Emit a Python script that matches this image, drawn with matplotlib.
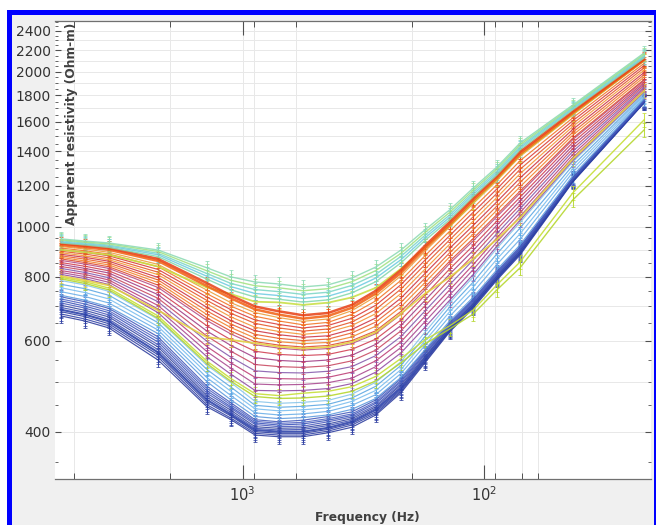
import numpy as np
import matplotlib
matplotlib.use("Agg")
import matplotlib.pyplot as plt
from matplotlib.patches import Rectangle
from matplotlib.ticker import FixedLocator, NullFormatter, FixedFormatter

# ---------------- data (rows = frequency, columns = individual curves) -------------
freq = [5650, 4500, 3580, 2240, 1405, 1118, 889, 708, 563, 443,
        353, 281, 221, 176, 139, 111, 88.6, 71.1, 43.0, 21.8]

dark_blue = [
    [671, 677, 684, 690, 697, 704, 711, 718, 724, 731],
    [656, 662, 669, 675, 682, 688, 695, 701, 708, 715],
    [636, 642, 648, 655, 661, 668, 674, 681, 687, 694],
    [551, 558, 564, 570, 577, 584, 590, 597, 604, 611],
    [447, 451, 456, 461, 466, 470, 475, 480, 485, 490],
    [422, 425, 429, 432, 436, 440, 444, 447, 451, 455],
    [394, 397, 400, 403, 406, 409, 413, 416, 419, 422],
    [391, 394, 397, 400, 403, 406, 409, 412, 415, 418],
    [391, 394, 397, 400, 404, 407, 410, 414, 417, 421],
    [398, 401, 404, 407, 411, 414, 418, 421, 424, 428],
    [408, 412, 415, 418, 421, 424, 427, 430, 433, 437],
    [431, 434, 437, 441, 444, 447, 450, 454, 457, 461],
    [476, 479, 482, 486, 489, 493, 496, 500, 503, 507],
    [544, 547, 550, 554, 557, 560, 564, 567, 570, 574],
    [625, 627, 630, 633, 636, 639, 642, 645, 648, 651],
    [695, 699, 702, 705, 708, 711, 714, 718, 721, 724],
    [788, 791, 795, 798, 801, 805, 808, 812, 815, 819],
    [881, 885, 889, 892, 896, 900, 904, 907, 911, 915],
    [1221, 1224, 1227, 1230, 1233, 1236, 1238, 1241, 1244, 1247],
    [1739, 1741, 1744, 1747, 1749, 1752, 1754, 1757, 1760, 1762],
]

light_blue = [
    [736, 748, 761, 773, 786],
    [720, 732, 745, 758, 771],
    [699, 711, 724, 736, 749],
    [620, 630, 640, 651, 661],
    [500, 509, 519, 528, 538],
    [461, 470, 479, 488, 498],
    [428, 435, 443, 450, 458],
    [424, 431, 439, 446, 454],
    [426, 433, 441, 448, 456],
    [431, 438, 445, 452, 460],
    [442, 450, 458, 465, 473],
    [464, 472, 481, 490, 499],
    [510, 519, 528, 538, 547],
    [577, 588, 600, 612, 624],
    [656, 670, 684, 698, 712],
    [730, 747, 764, 781, 799],
    [825, 845, 865, 886, 908],
    [922, 945, 969, 994, 1019],
    [1256, 1275, 1295, 1315, 1336],
    [1770, 1782, 1794, 1806, 1818],
]

lime = [
    [797, 792], [782, 776], [760, 754], [671, 664], [548, 542],
    [507, 501], [474, 468], [470, 464], [475, 465], [479, 469],
    [489, 479], [512, 502], [555, 544], [603, 592], [642, 633],
    [689, 677], [771, 754], [854, 832], [1163, 1127], [1612, 1541],
]

purple_red = [
    [808, 815, 822, 830, 837, 845, 852, 860],
    [793, 800, 808, 815, 823, 830, 838, 846],
    [772, 780, 788, 796, 804, 813, 821, 830],
    [681, 692, 703, 715, 726, 738, 750, 762],
    [559, 572, 585, 599, 613, 627, 642, 657],
    [517, 531, 544, 558, 573, 588, 603, 619],
    [481, 495, 510, 525, 540, 557, 573, 590],
    [480, 493, 507, 521, 535, 550, 565, 581],
    [481, 494, 506, 520, 533, 547, 562, 576],
    [485, 498, 510, 524, 537, 551, 565, 580],
    [496, 508, 522, 535, 549, 563, 578, 593],
    [522, 535, 549, 562, 576, 591, 605, 620],
    [569, 583, 598, 612, 628, 643, 659, 676],
    [638, 654, 670, 686, 702, 719, 736, 754],
    [720, 737, 754, 772, 790, 809, 828, 848],
    [808, 826, 844, 862, 881, 900, 919, 939],
    [917, 934, 952, 970, 989, 1007, 1026, 1046],
    [1029, 1047, 1065, 1084, 1102, 1122, 1141, 1161],
    [1345, 1363, 1381, 1400, 1418, 1437, 1457, 1476],
    [1826, 1840, 1854, 1867, 1881, 1895, 1909, 1923],
]

orange_red = [
    [866, 872, 878, 884, 890, 896, 902, 909, 915],
    [852, 858, 865, 872, 878, 885, 892, 898, 905],
    [836, 843, 850, 857, 863, 870, 878, 885, 892],
    [770, 779, 788, 797, 807, 816, 826, 836, 845],
    [665, 675, 686, 697, 708, 719, 730, 741, 753],
    [627, 637, 647, 657, 668, 679, 690, 701, 712],
    [598, 608, 618, 628, 638, 649, 659, 670, 681],
    [589, 598, 607, 617, 626, 636, 646, 656, 666],
    [584, 593, 601, 610, 618, 627, 636, 645, 655],
    [588, 596, 605, 614, 624, 633, 643, 652, 662],
    [601, 611, 622, 632, 643, 653, 664, 676, 687],
    [628, 641, 653, 665, 678, 691, 704, 718, 732],
    [685, 699, 713, 727, 742, 757, 772, 787, 803],
    [763, 779, 794, 811, 827, 844, 861, 878, 896],
    [857, 874, 890, 908, 925, 943, 961, 980, 999],
    [949, 968, 987, 1006, 1026, 1046, 1067, 1088, 1109],
    [1056, 1077, 1097, 1118, 1140, 1161, 1184, 1206, 1229],
    [1172, 1195, 1219, 1243, 1267, 1292, 1317, 1343, 1369],
    [1486, 1506, 1525, 1545, 1565, 1585, 1606, 1627, 1648],
    [1931, 1952, 1972, 1992, 2013, 2034, 2055, 2076, 2098],
]

yellow = [
    [802, 902], [787, 892], [769, 882], [688, 837], [610, 762],
    [603, 740], [594, 715], [585, 713], [580, 705], [584, 712],
    [597, 729], [624, 761], [678, 829], [741, 912], [798, 1004],
    [866, 1115], [945, 1236], [1040, 1376], [1354, 1654], [1835, 2103],
]

bold_orange = [
    [921, 927], [912, 918], [902, 909], [858, 866], [767, 777],
    [726, 735], [691, 700], [675, 685], [663, 673], [671, 680],
    [696, 705], [742, 751], [814, 824], [907, 918], [1009, 1021],
    [1124, 1136], [1242, 1254], [1383, 1397], [1662, 1674], [2107, 2117],
]

teal_green = [
    [930, 934, 939, 943, 947],
    [922, 926, 930, 934, 938],
    [912, 917, 921, 926, 930],
    [875, 882, 888, 895, 901],
    [791, 801, 811, 821, 832],
    [754, 765, 776, 787, 799],
    [730, 742, 755, 768, 781],
    [723, 735, 748, 761, 774],
    [714, 726, 739, 751, 764],
    [721, 733, 746, 758, 771],
    [744, 756, 769, 782, 795],
    [782, 795, 808, 822, 835],
    [851, 863, 876, 888, 901],
    [940, 951, 962, 974, 986],
    [1032, 1043, 1054, 1066, 1078],
    [1145, 1156, 1167, 1178, 1189],
    [1261, 1272, 1283, 1295, 1306],
    [1411, 1422, 1432, 1443, 1454],
    [1688, 1697, 1706, 1714, 1723],
    [2126, 2138, 2150, 2162, 2174],
]

err_frac = 0.03  # relative error bar half-length

y_major = [400, 600, 800, 1000, 1200, 1400, 1600, 1800, 2000, 2200, 2400]
y_grid = list(range(400, 2401, 100))
y_minor = list(range(350, 2501, 50))
x_major = [1000, 100]
x_major_labels = [r'$10^3$', r'$10^2$']
x_minor = [5000, 2000, 900, 600, 200, 90, 70, 60]

# ---------------- styles -------------------------------------------------------------
groups = [
    (dark_blue, ['#2a3a9c', '#3242a6', '#2c3ea2', '#2a40a8', '#3d4fb2',
                 '#33459f', '#4858bc', '#3a52b8', '#5062c2', '#4258ba'], 0.85),
    (light_blue, ['#5b98dc', '#68ade8', '#78bcee', '#5aa6e2', '#86c4ea'], 0.85),
    (lime, ['#c5de32', '#b4d62a'], 1.0),
    (purple_red, ['#8f4aa2', '#a8468e', '#bc3c74', '#8458ac', '#c8465e',
                  '#a03c84', '#d03c50', '#b44c86'], 0.85),
    (orange_red, ['#dc4a30', '#f28028', '#e85e2a', '#cc3242', '#f39332',
                  '#e45426', '#d83a38', '#f27222', '#eb9c36'], 0.85),
    (yellow, ['#e4d040', '#c8de42'], 1.3),
    (bold_orange, ['#f26418', '#e8441a'], 1.8),
    (teal_green, ['#84d8ac', '#70cce2', '#7cd6c6', '#a2e282', '#8cdab4'], 1.0),
]

W, H = 656, 525
fig = plt.figure(figsize=(W / 100, H / 100), dpi=100)
fig.patch.set_facecolor('white')
fig.add_artist(Rectangle((7 / W, 0), 649 / W, 515 / H, transform=fig.transFigure,
                         facecolor='#0000ff', edgecolor='none', zorder=-5))
fig.add_artist(Rectangle((12 / W, 0), 642 / W, 510 / H, transform=fig.transFigure,
                         facecolor='#f0f0f0', edgecolor='none', zorder=-4))

ax = fig.add_axes([55 / W, 1 - 478.5 / H, 596 / W, 457.8 / H])
ax.set_facecolor('white')
ax.set_xscale('log')
ax.set_yscale('log')
ax.set_xlim(5982, 20.4)
ax.set_ylim(324.4, 2512)

# grid
for g in y_grid:
    ax.axhline(g, color='#e8e8e8', lw=0.7, zorder=0)
for g in x_major + x_minor:
    ax.axvline(g, color='#e8e8e8', lw=0.7, zorder=0)

f = np.array(freq)
for data, colors, lw in groups:
    arr = np.array(data, dtype=float).T
    for i, curve in enumerate(arr):
        c = colors[i % len(colors)]
        w = lw
        if data is dark_blue and i == 3:
            w = 1.5
        ax.errorbar(f, curve, yerr=curve * err_frac, color=c, lw=w,
                    elinewidth=0.75, capsize=1.2, capthick=0.6, alpha=0.88, zorder=2)

ax.xaxis.set_major_locator(FixedLocator(x_major))
ax.xaxis.set_major_formatter(FixedFormatter(x_major_labels))
ax.xaxis.set_minor_locator(FixedLocator(x_minor))
ax.xaxis.set_minor_formatter(NullFormatter())
ax.yaxis.set_major_locator(FixedLocator(y_major))
ax.yaxis.set_major_formatter(FixedFormatter([str(v) for v in y_major]))
ax.yaxis.set_minor_locator(FixedLocator(y_minor))
ax.yaxis.set_minor_formatter(NullFormatter())

ax.tick_params(which='both', direction='in', top=True, right=True,
               color='#505050', labelcolor='#333333')
ax.tick_params(axis='x', which='major', length=10, width=0.8, labelsize=10.5, pad=5)
ax.tick_params(axis='x', which='minor', length=4.5, width=0.7)
ax.tick_params(axis='y', which='major', length=4, width=0.8, labelsize=10, pad=3)
ax.tick_params(axis='y', which='minor', length=2.5, width=0.6)

for side in ['left', 'right']:
    ax.spines[side].set_visible(False)
for side in ['top', 'bottom']:
    ax.spines[side].set_color('#707070')
    ax.spines[side].set_linewidth(0.9)

fig.text(71.7 / W, 1 - 124 / H, 'Apparent resistivity (Ohm-m)', rotation=90,
         ha='center', va='center', fontsize=8.8, fontweight='bold', color='#404040')
fig.text(367.5 / W, 1 - 517 / H, 'Frequency (Hz)', ha='center', va='center',
         fontsize=8.8, fontweight='bold', color='#404040')

fig.savefig('out.png', dpi=100, facecolor=fig.get_facecolor())
